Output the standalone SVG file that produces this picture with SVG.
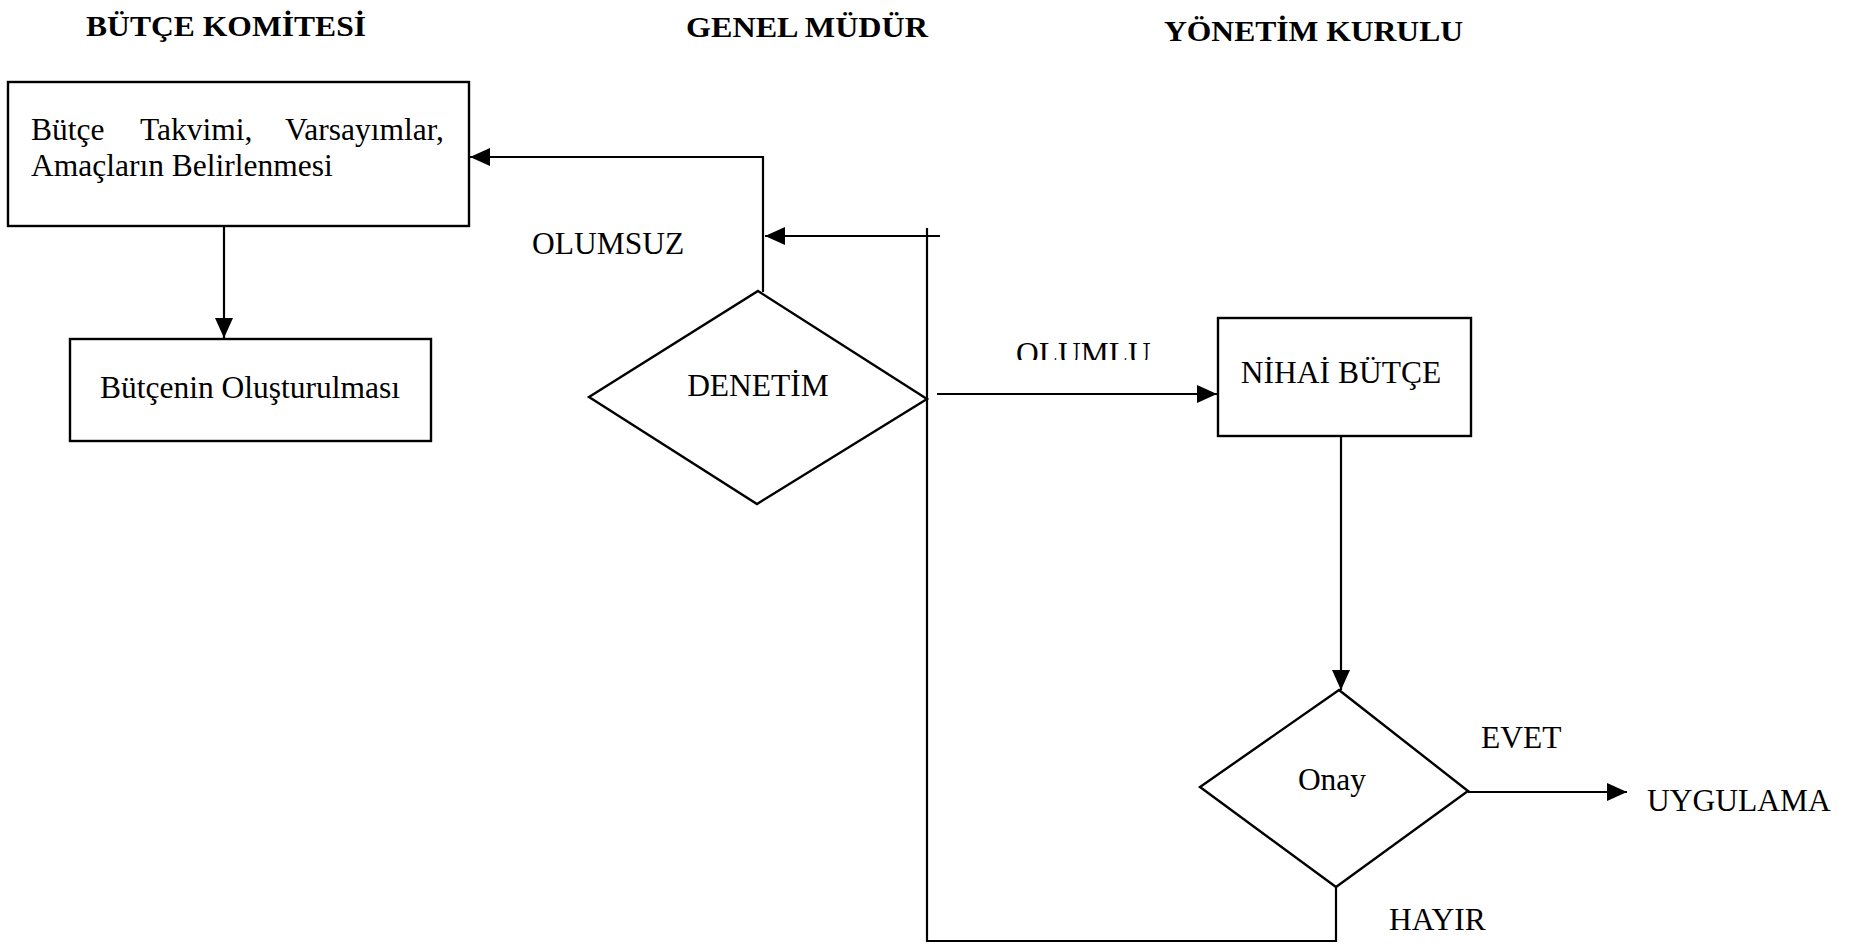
<svg xmlns="http://www.w3.org/2000/svg" width="1865" height="949" viewBox="0 0 1865 949">
  <style>
    .bg { fill: #ffffff; }
    .shape { fill: none; stroke: #000; stroke-width: 2.4; }
    .wire { fill: none; stroke: #000; stroke-width: 2.2; }
    .txt { font-family: "Liberation Serif", "Times New Roman", serif; font-size: 31.5px; fill: #000; }
    .head { font-family: "Liberation Serif", "Times New Roman", serif; font-size: 29px; font-weight: bold; fill: #000; }
    .mid { text-anchor: middle; }
  </style>
  <defs>
    <marker id="arrow" viewBox="0 0 20 18" refX="20" refY="9" markerWidth="20" markerHeight="18" markerUnits="userSpaceOnUse" orient="auto">
      <path d="M0,0 L20,9 L0,18 Z" fill="#000"/>
    </marker>
    <clipPath id="cut-olumlu">
      <rect x="1000" y="330" width="180" height="30"/>
    </clipPath>
  </defs>

  <rect class="bg" x="0" y="0" width="1865" height="949"/>

  <!-- column headings -->
  <g id="headings">
    <text class="head" x="86" y="36" textLength="280" lengthAdjust="spacingAndGlyphs">BÜTÇE KOMİTESİ</text>
    <text class="head" x="686" y="37" textLength="242" lengthAdjust="spacingAndGlyphs">GENEL MÜDÜR</text>
    <text class="head" x="1164" y="41" textLength="299" lengthAdjust="spacingAndGlyphs">YÖNETİM KURULU</text>
  </g>

  <!-- connectors -->
  <g id="connectors">
    <path class="wire" d="M224,226 V338" marker-end="url(#arrow)"/>
    <path class="wire" d="M763,292 V157 H470" marker-end="url(#arrow)"/>
    <path class="wire" d="M1336,887 V941 H927 V228"/>
    <path class="wire" d="M940,236 H765" marker-end="url(#arrow)"/>
    <path class="wire" d="M937,394 H1217" marker-end="url(#arrow)"/>
    <path class="wire" d="M1341,437 V690" marker-end="url(#arrow)"/>
    <path class="wire" d="M1468,792 H1627" marker-end="url(#arrow)"/>
  </g>

  <!-- connector labels -->
  <g id="labels">
    <text class="txt" x="532" y="254">OLUMSUZ</text>
    <text class="txt" x="1016" y="364" clip-path="url(#cut-olumlu)">OLUMLU</text>
    <text class="txt" x="1481" y="748">EVET</text>
    <text class="txt" x="1389" y="930">HAYIR</text>
    <text class="txt" x="1647" y="811">UYGULAMA</text>
  </g>

  <g id="node-takvim">
    <rect class="shape" x="8" y="82" width="461" height="144"/>
    <text class="txt" y="140"><tspan x="31">Bütçe</tspan><tspan x="140">Takvimi,</tspan><tspan x="285">Varsayımlar,</tspan></text>
    <text class="txt" x="31" y="176">Amaçların Belirlenmesi</text>
  </g>

  <g id="node-olusturma">
    <rect class="shape" x="70" y="339" width="361" height="102"/>
    <text class="txt mid" x="250" y="398">Bütçenin Oluşturulması</text>
  </g>

  <g id="node-denetim">
    <polygon class="shape" points="758,291 927,399 757,504 589,397"/>
    <text class="txt mid" x="758" y="396">DENETİM</text>
  </g>

  <g id="node-nihai">
    <rect class="shape" x="1218" y="318" width="253" height="118"/>
    <text class="txt mid" x="1341" y="383">NİHAİ BÜTÇE</text>
  </g>

  <g id="node-onay">
    <polygon class="shape" points="1339,690 1468,791 1336,887 1200,787"/>
    <text class="txt mid" x="1332" y="790">Onay</text>
  </g>
</svg>
